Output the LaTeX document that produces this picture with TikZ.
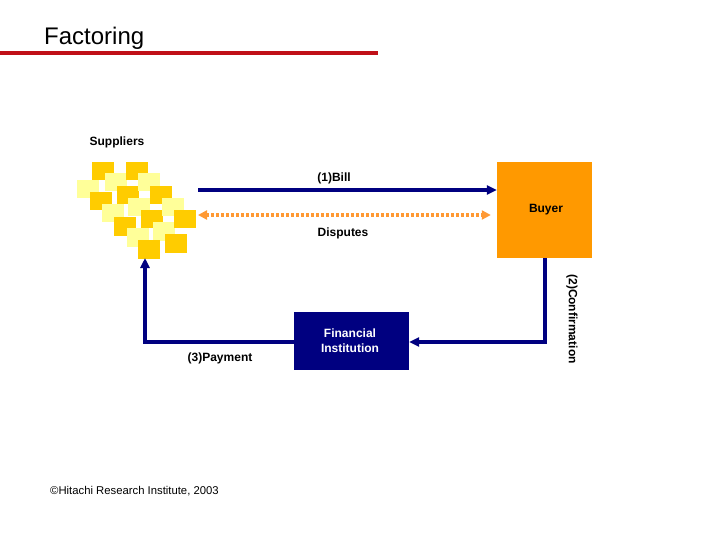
\documentclass[tikz,border=0pt]{standalone}
\usepackage{fontspec}
\setmainfont{Liberation Sans}
\usetikzlibrary{arrows.meta}
\definecolor{navy}{RGB}{0,0,128}
\definecolor{buyerorange}{RGB}{255,153,0}
\definecolor{dispor}{RGB}{255,153,51}
\definecolor{titlered}{RGB}{192,16,24}
\definecolor{darksq}{RGB}{255,204,0}
\definecolor{lightsq}{RGB}{255,255,153}
\tikzset{
  dsq/.style={fill=darksq,draw=none},
  lsq/.style={fill=lightsq,draw=none},
  lbl/.style={font=\fontsize{12}{14}\selectfont\bfseries,inner sep=0pt},
  flow/.style={draw=navy,line width=3.5pt,-{Triangle[length=10pt,width=9pt]}},
}
\begin{document}
\begin{tikzpicture}[x=1pt,y=-1pt]
\useasboundingbox (0,0) rectangle (720,540);
% title
\node[anchor=base west,inner sep=0pt,font=\fontsize{24}{28}\selectfont] (title) at (44,45) {Factoring};
\draw[titlered,line width=4pt] (0,53) -- (378,53);
% suppliers
\node[lbl] (suplbl) at (117,142) {Suppliers};
% chain C
\fill[lsq] (77,180) rectangle ++(21.5,18.5);
\fill[dsq] (90,192) rectangle ++(21.5,18.5);
\fill[lsq] (102,204) rectangle ++(21.5,18.5);
\fill[dsq] (114,217) rectangle ++(21.5,18.5);
\fill[lsq] (127,228) rectangle ++(21.5,18.5);
% chain A
\fill[dsq] (92,162) rectangle ++(21.5,18.5);
\fill[lsq] (105,173) rectangle ++(21.5,18.5);
\fill[dsq] (117,186) rectangle ++(21.5,18.5);
\fill[lsq] (128,198) rectangle ++(21.5,18.5);
\fill[dsq] (141,210) rectangle ++(21.5,18.5);
\fill[lsq] (153,222) rectangle ++(21.5,18.5);
\fill[dsq] (165,234) rectangle ++(21.5,18.5);
% chain B
\fill[dsq] (126,162) rectangle ++(21.5,18.5);
\fill[lsq] (138,173) rectangle ++(21.5,18.5);
\fill[dsq] (150,186) rectangle ++(21.5,18.5);
\fill[lsq] (162,198) rectangle ++(21.5,18.5);
\fill[dsq] (174,210) rectangle ++(21.5,18.5);
% last of chain C on top
\fill[dsq] (138,240) rectangle ++(21.5,18.5);
\coordinate (supR1) at (198,190);
\coordinate (supR2) at (198,215);
\coordinate (supB) at (145,258);
% buyer
\node[fill=buyerorange,minimum width=95pt,minimum height=96pt,inner sep=0pt] (buyer) at (544.5,210) {};
\node[lbl] (buyerlbl) at (546,210) {Buyer};
% financial institution
\node[fill=navy,minimum width=115pt,minimum height=58pt,inner sep=0pt] (fi) at (351.5,341) {};
\node[lbl,text=white,align=center,font=\fontsize{12}{15}\selectfont\bfseries] (filbl) at (350,341) {Financial\\Institution};
% bill
\draw[flow] (supR1) -- (buyer.west |- supR1);
\node[lbl] (billlbl) at (334,178) {(1)Bill};
% disputes
\draw[draw=dispor,line width=4pt,dash pattern=on 3pt off 2pt,{Triangle[length=9pt,width=9pt,fill=dispor]}-{Triangle[length=9pt,width=9pt,fill=dispor]}] (supR2) -- ([xshift=-6pt]buyer.west |- supR2);
\node[lbl] (displbl) at (343,233) {Disputes};
% confirmation
\coordinate (cbend) at (545,342);
\draw[flow] (buyer.south -| cbend) -- (cbend) -- (fi.east |- cbend);
\node[lbl,rotate=-90] (conflbl) at (572,319) {(2)Confirmation};
% payment
\coordinate (pbend) at (145,342);
\draw[flow] (fi.west |- pbend) -- (pbend) -- (supB);
\node[lbl] (paylbl) at (220,358) {(3)Payment};
% footer
\node[anchor=west,inner sep=0pt,font=\fontsize{11.3}{13}\selectfont] (foot) at (50,491) {©Hitachi Research Institute, 2003};
\end{tikzpicture}
\end{document}
